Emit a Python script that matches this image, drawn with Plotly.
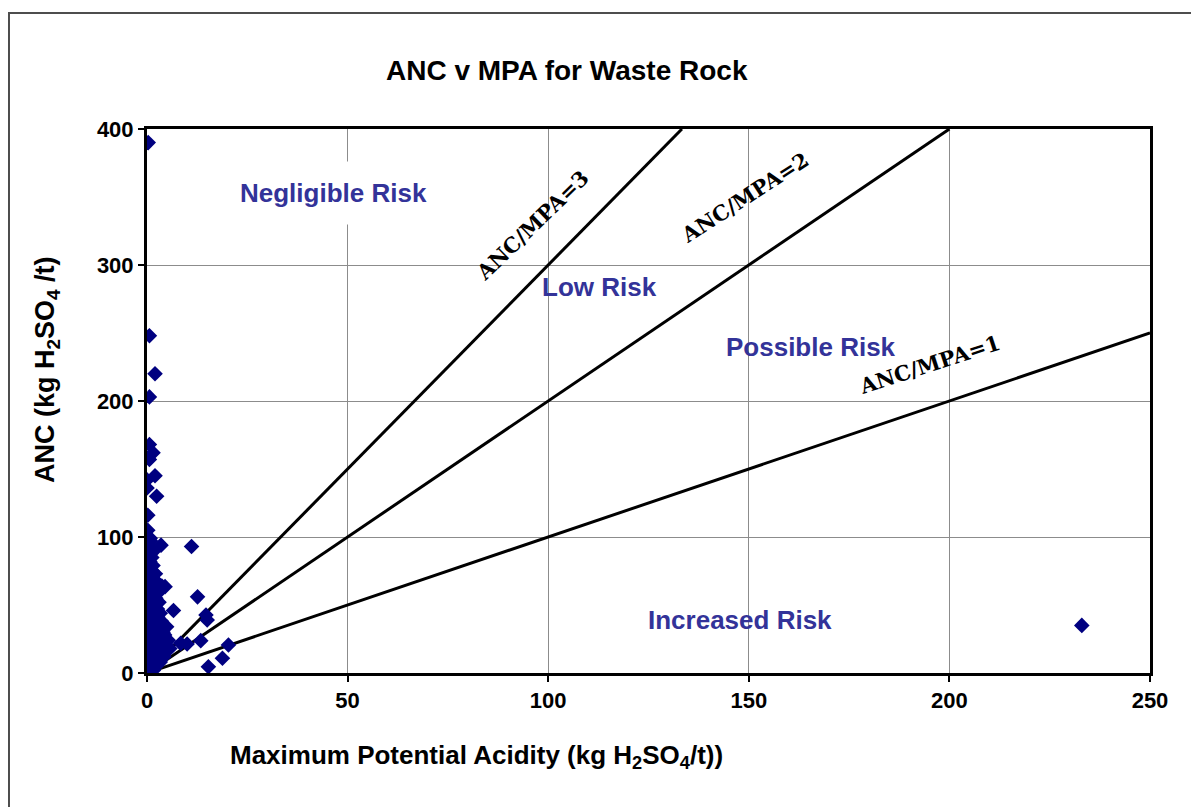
import plotly.graph_objects as go

# ---- data ----
mpa = [0.3, 0.6, 2.0, 0.6, 0.6, 1.5, 0.6, 2.0, 0.0, 0.0, 2.4, 0.2, 0.2, 0.8, 3.5, 11.1, 0.2,
       12.6, 14.7, 15.0, 8.4, 10.0, 13.4, 20.3, 18.8, 15.3, 233.0,
       0.1, 0.3, 0.5, 0.2, 0.8, 1.2, 1.5, 0.4, 0.1, 0.6, 1.0, 1.8, 2.2, 2.6, 0.2, 0.5, 0.9, 1.4,
       2.0, 2.8, 3.2, 0.1, 0.4, 0.7, 1.1, 1.6, 2.4, 3.0, 3.8, 0.2, 0.5, 0.9, 1.3, 1.9, 2.5, 3.4,
       0.1, 0.3, 0.7, 1.2, 1.7, 2.3, 2.9, 4.0, 0.2, 0.6, 1.0, 1.5, 2.1, 2.7, 3.6, 0.1, 0.4, 0.8,
       1.3, 1.9, 2.6, 3.3, 0.3, 0.7, 1.1, 1.6, 2.2, 3.0, 0.1, 0.5, 0.9, 1.4, 2.0, 2.8, 3.7, 0.2,
       0.6, 1.0, 1.7, 2.4, 0.1, 0.4, 0.8, 1.3, 2.1, 0.3, 0.7, 1.5, 0.2, 0.5, 1.2, 0.1, 0.9, 1.8,
       4.5, 6.6, 5.7, 4.9, 5.3, 1.6, 0.8, 2.4, 3.3, 4.2, 3.6, 4.4]
anc = [390, 248, 220, 203, 168, 162, 157, 145, 142, 136, 130, 116, 105, 99, 94, 93, 86,
       56, 42.6, 39, 21.8, 21.3, 23.8, 20.6, 10.8, 4.6, 35,
       3, 5, 8, 10, 12, 6, 9, 14, 16, 18, 15, 11, 13, 10, 20, 22, 24, 20,
       18, 17, 15, 26, 28, 30, 27, 25, 23, 21, 19, 32, 34, 36, 33, 31, 29, 27,
       38, 40, 42, 39, 37, 35, 34, 30, 44, 46, 48, 45, 43, 41, 38, 50, 52, 54,
       51, 49, 47, 44, 56, 58, 60, 57, 55, 52, 62, 64, 66, 63, 61, 59, 64, 68,
       70, 72, 69, 67, 74, 76, 78, 75, 73, 80, 82, 79, 88, 91, 85, 95, 97, 90,
       63.5, 46, 18, 34, 24, 2, 4, 7, 8, 12, 24, 28]

ratio_labels = ["ANC/MPA=3", "ANC/MPA=2", "ANC/MPA=1"]
line_x_end = [133.33, 200, 250]
line_y_end = [400, 400, 250]

x_ticks = [0, 50, 100, 150, 200, 250]
y_ticks = [0, 100, 200, 300, 400]

# ---- figure ----
fig = go.Figure()

for lab, xe, ye in zip(ratio_labels, line_x_end, line_y_end):
    fig.add_trace(go.Scatter(x=[0, xe], y=[0, ye], mode="lines",
                             line=dict(color="black", width=3),
                             hoverinfo="skip", showlegend=False, name=lab))

fig.add_trace(go.Scatter(x=mpa, y=anc, mode="markers",
                         marker=dict(symbol="diamond", color="#000080", size=12,
                                     line=dict(width=0)),
                         showlegend=False, name="Waste Rock"))

axis_common = dict(showline=True, linewidth=3, linecolor="black", mirror=True,
                   showgrid=True, gridcolor="#8c8c8c", gridwidth=1,
                   ticks="outside", ticklen=6, tickwidth=2, tickcolor="black",
                   zeroline=False,
                   tickfont=dict(family="Liberation Sans", size=22, color="black", weight="bold"))

# page body has an 8px margin, so margins are offset by 8px
fig.update_layout(
    width=1199, height=807,
    margin=dict(l=139, r=57, t=121, b=142),
    paper_bgcolor="white", plot_bgcolor="white",
    xaxis=dict(range=[0, 250], tickvals=x_ticks, **axis_common),
    yaxis=dict(range=[0, 400], tickvals=y_ticks, **axis_common),
    showlegend=False,
)

# outer chart border
fig.add_shape(type="rect", xref="paper", yref="paper",
              x0=-0.1376, x1=1.07, y0=-0.3, y1=1.2132,
              line=dict(color="#4d4d4d", width=2), layer="below")

bold_sans = dict(family="Liberation Sans", color="black", weight="bold")

# title
fig.add_annotation(text="ANC v MPA for Waste Rock", xref="paper", yref="paper",
                   x=0.4187, y=1.108, showarrow=False, xanchor="center", yanchor="middle",
                   font=dict(size=28, **bold_sans))
# axis titles
fig.add_annotation(text="ANC (kg H<sub>2</sub>SO<sub>4</sub> /t)", xref="paper", yref="paper",
                   x=-0.0997, y=0.557, showarrow=False, textangle=-90,
                   xanchor="center", yanchor="middle",
                   font=dict(size=27, **bold_sans))
fig.add_annotation(text="Maximum Potential Acidity (kg H<sub>2</sub>SO<sub>4</sub>/t))",
                   xref="paper", yref="paper",
                   x=0.329, y=-0.154, showarrow=False, xanchor="center", yanchor="middle",
                   font=dict(size=26, **bold_sans))

# risk region labels
region_text = ["Negligible Risk", "Low Risk", "Possible Risk", "Increased Risk"]
region_x = [46.4, 112.7, 165.5, 147.8]
region_y = [353.0, 283.8, 239.7, 39.0]
for t, rx, ry in zip(region_text, region_x, region_y):
    fig.add_annotation(text=t, x=rx, y=ry, showarrow=False,
                       xanchor="center", yanchor="middle",
                       bgcolor="white" if t == "Negligible Risk" else None,
                       borderpad=16 if t == "Negligible Risk" else 1,
                       font=dict(family="Liberation Sans", size=26, color="#333399", weight="bold"))

# ratio line labels
label_x = [96.0, 149.0, 195.0]
label_y = [329.0, 350.0, 227.0]
label_angle = [-44, -33, -18]
for t, lx, ly, ang in zip(ratio_labels, label_x, label_y, label_angle):
    fig.add_annotation(text=t, x=lx, y=ly, showarrow=False, textangle=ang,
                       xanchor="center", yanchor="middle",
                       font=dict(family="DejaVu Serif", size=21, color="black", weight="bold"))

fig.write_html("out.html")
